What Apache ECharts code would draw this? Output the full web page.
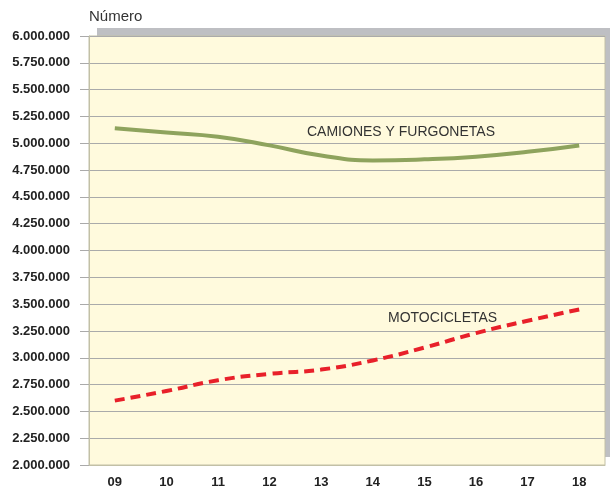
<!DOCTYPE html>
<html>
<head>
<meta charset="utf-8">
<script src="https://cdn.jsdelivr.net/npm/echarts@6/dist/echarts.min.js"></script>
<style>html,body{margin:0;padding:0;background:#fff;}#c{width:610px;height:493px;}</style>
</head>
<body>
<div id="c"></div>
<script>
const categories = ['09','10','11','12','13','14','15','16','17','18'];
const camiones = [5140000, 5100000, 5060000, 4980000, 4885000, 4840000, 4850000, 4875000, 4920000, 4980000];
const motocicletas = [2600000, 2690000, 2790000, 2850000, 2890000, 2975000, 3095000, 3230000, 3345000, 3450000];
const yMin = 2000000, yMax = 6000000, yStep = 250000;

function fmt(v){ return String(v).replace(/\B(?=(\d{3})+(?!\d))/g,'.'); }

const chart = echarts.init(document.getElementById('c'), null, {renderer:'canvas'});
chart.setOption({
  animation:false,
  textStyle:{fontFamily:'Liberation Sans, Arial, sans-serif'},
  graphic:[
    {type:'rect', z:-10, shape:{x:97, y:28, width:520, height:429}, style:{fill:'#bebfc3'}, silent:true},
    {type:'text', left:89, top:9, style:{text:'Número', font:'15px Liberation Sans, Arial, sans-serif', fill:'#333'}},
    {type:'text', left:307, top:125, z:10, style:{text:'CAMIONES Y FURGONETAS', font:'14px Liberation Sans, Arial, sans-serif', fill:'#333'}},
    {type:'text', left:388, top:311, z:10, style:{text:'MOTOCICLETAS', font:'14px Liberation Sans, Arial, sans-serif', fill:'#333'}}
  ],
  grid:{left:89, right:5, top:36, bottom:28, show:true, backgroundColor:'#fffadd', borderColor:'#c2c0a6', borderWidth:1},
  xAxis:{
    type:'category', data:categories, boundaryGap:true,
    axisLine:{show:true, lineStyle:{color:'#c2c0a6'}},
    axisTick:{show:false},
    axisLabel:{color:'#222', fontWeight:'bold', fontSize:13, margin:11}
  },
  yAxis:{
    type:'value', min:yMin, max:yMax, interval:yStep,
    axisLine:{show:true, lineStyle:{color:'#c2c0a6'}},
    axisTick:{show:true, length:9, lineStyle:{color:'#aaa'}},
    axisLabel:{color:'#222', fontWeight:'bold', fontSize:13, margin:19, formatter:fmt},
    splitLine:{show:true, lineStyle:{color:'#aaaaaa', width:1}}
  },
  series:[
    {type:'line', data:camiones, smooth:true, symbol:'none',
     lineStyle:{color:'#8ea35d', width:4}},
    {type:'line', data:motocicletas, smooth:true, symbol:'none',
     lineStyle:{color:'#e8202a', width:4, type:[10,6]}}
  ]
});
</script>
</body>
</html>
